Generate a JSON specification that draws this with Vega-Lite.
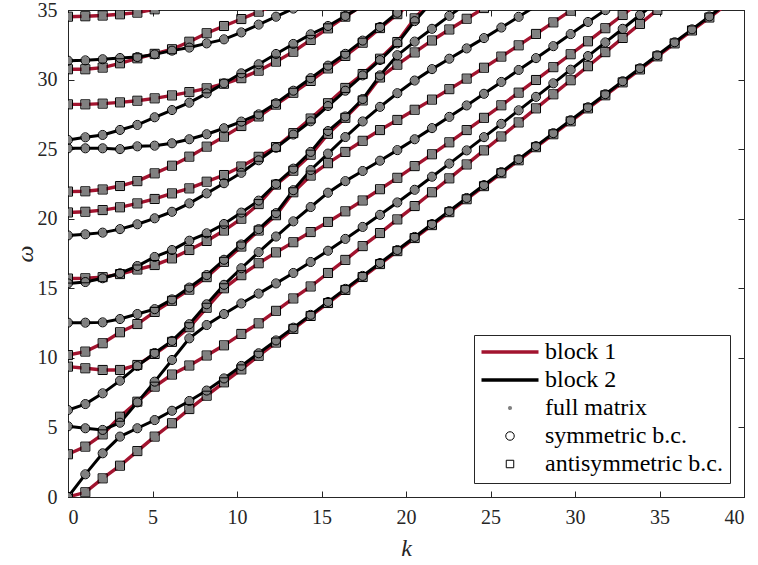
{
"$schema":"https://vega.github.io/schema/vega-lite/v6.json",
"width":676,"height":487,"autosize":{"type":"none"},
"padding":{"left":68,"top":10,"right":14,"bottom":68},
"background":"white",
"config":{
 "view":{"stroke":"#262626"},
 "axis":{"labelFont":"Liberation Serif","labelFontSize":20,"labelColor":"#262626","titleFont":"Liberation Serif","titleFontSize":24,"titleFontStyle":"italic","titleFontWeight":"normal","titleColor":"#262626","domainColor":"#262626","tickColor":"#262626","grid":false,"tickSize":-6},
 "axisX":{"labelPadding":16,"titlePadding":9},
 "axisY":{"labelPadding":17,"titlePadding":0},
 "legend":{"orient":"bottom-right","offset":14,"fillColor":"white","strokeColor":"#262626","padding":7,"labelFont":"Liberation Serif","labelFontSize":24,"labelColor":"black","rowPadding":4,"clipHeight":20,"symbolOffset":17,"labelOffset":23,"labelLimit":300}
},
"data":{"values":[
{"r":"A0","b":1,"k":0,"w":0},{"r":"A0","b":1,"k":1.026,"w":0.34},{"r":"A0","b":1,"k":2.051,"w":1.34},{"r":"A0","b":1,"k":3.077,"w":2.25},{"r":"A0","b":1,"k":4.103,"w":3.3},{"r":"A0","b":1,"k":5.128,"w":4.34},{"r":"A0","b":1,"k":6.154,"w":5.3},{"r":"A0","b":1,"k":7.179,"w":6.32},{"r":"A0","b":1,"k":8.205,"w":7.28},{"r":"A0","b":1,"k":9.231,"w":8.24},{"r":"A0","b":1,"k":10.256,"w":9.17},{"r":"A0","b":1,"k":11.282,"w":10.15},{"r":"A0","b":1,"k":12.308,"w":11.1},{"r":"A0","b":1,"k":13.333,"w":12.08},{"r":"A0","b":1,"k":14.359,"w":13.01},{"r":"A0","b":1,"k":15.385,"w":13.94},{"r":"A0","b":1,"k":16.41,"w":14.88},{"r":"A0","b":1,"k":17.436,"w":15.81},{"r":"A0","b":1,"k":18.462,"w":16.74},{"r":"A0","b":1,"k":19.487,"w":17.67},{"r":"A0","b":1,"k":20.513,"w":18.61},{"r":"A0","b":1,"k":21.538,"w":19.54},{"r":"A0","b":1,"k":22.564,"w":20.47},{"r":"A0","b":1,"k":23.59,"w":21.4},{"r":"A0","b":1,"k":24.615,"w":22.34},{"r":"A0","b":1,"k":25.641,"w":23.27},{"r":"A0","b":1,"k":26.667,"w":24.2},{"r":"A0","b":1,"k":27.692,"w":25.14},{"r":"A0","b":1,"k":28.718,"w":26.07},{"r":"A0","b":1,"k":29.744,"w":27.0},{"r":"A0","b":1,"k":30.769,"w":27.93},{"r":"A0","b":1,"k":31.795,"w":28.87},{"r":"A0","b":1,"k":32.821,"w":29.8},{"r":"A0","b":1,"k":33.846,"w":30.73},{"r":"A0","b":1,"k":34.872,"w":31.67},{"r":"A0","b":1,"k":35.897,"w":32.6},{"r":"A0","b":1,"k":36.923,"w":33.53},{"r":"A0","b":1,"k":37.949,"w":34.46},{"r":"A0","b":1,"k":38.974,"w":35.4},
{"r":"A1","b":1,"k":0,"w":3.07},{"r":"A1","b":1,"k":1.026,"w":3.62},{"r":"A1","b":1,"k":2.051,"w":4.5},{"r":"A1","b":1,"k":3.077,"w":5.77},{"r":"A1","b":1,"k":4.103,"w":6.85},{"r":"A1","b":1,"k":5.128,"w":7.93},{"r":"A1","b":1,"k":6.154,"w":8.8},{"r":"A1","b":1,"k":7.179,"w":9.45},{"r":"A1","b":1,"k":8.205,"w":10.17},{"r":"A1","b":1,"k":9.231,"w":10.9},{"r":"A1","b":1,"k":10.256,"w":11.72},{"r":"A1","b":1,"k":11.282,"w":12.48},{"r":"A1","b":1,"k":12.308,"w":13.38},{"r":"A1","b":1,"k":13.333,"w":14.27},{"r":"A1","b":1,"k":14.359,"w":15.13},{"r":"A1","b":1,"k":15.385,"w":16.1},{"r":"A1","b":1,"k":16.41,"w":17.04},{"r":"A1","b":1,"k":17.436,"w":18.03},{"r":"A1","b":1,"k":18.462,"w":18.97},{"r":"A1","b":1,"k":19.487,"w":19.95},{"r":"A1","b":1,"k":20.513,"w":20.91},{"r":"A1","b":1,"k":21.538,"w":21.9},{"r":"A1","b":1,"k":22.564,"w":22.9},{"r":"A1","b":1,"k":23.59,"w":23.9},{"r":"A1","b":1,"k":24.615,"w":24.91},{"r":"A1","b":1,"k":25.641,"w":25.91},{"r":"A1","b":1,"k":26.667,"w":26.92},{"r":"A1","b":1,"k":27.692,"w":27.93},{"r":"A1","b":1,"k":28.718,"w":28.94},{"r":"A1","b":1,"k":29.744,"w":29.95},{"r":"A1","b":1,"k":30.769,"w":30.96},{"r":"A1","b":1,"k":31.795,"w":31.97},{"r":"A1","b":1,"k":32.821,"w":32.99},{"r":"A1","b":1,"k":33.846,"w":34.0},{"r":"A1","b":1,"k":34.872,"w":35.01},
{"r":"A2","b":1,"k":0,"w":9.37},{"r":"A2","b":1,"k":1.026,"w":9.25},{"r":"A2","b":1,"k":2.051,"w":9.13},{"r":"A2","b":1,"k":3.077,"w":9.13},{"r":"A2","b":1,"k":4.103,"w":9.49},{"r":"A2","b":1,"k":5.128,"w":10.28},{"r":"A2","b":1,"k":6.154,"w":11.15},{"r":"A2","b":1,"k":7.179,"w":12.2},{"r":"A2","b":1,"k":8.205,"w":13.6},{"r":"A2","b":1,"k":9.231,"w":15.0},{"r":"A2","b":1,"k":10.256,"w":15.94},{"r":"A2","b":1,"k":11.282,"w":16.8},{"r":"A2","b":1,"k":12.308,"w":17.58},{"r":"A2","b":1,"k":13.333,"w":18.31},{"r":"A2","b":1,"k":14.359,"w":19.04},{"r":"A2","b":1,"k":15.385,"w":19.77},{"r":"A2","b":1,"k":16.41,"w":20.53},{"r":"A2","b":1,"k":17.436,"w":21.31},{"r":"A2","b":1,"k":18.462,"w":22.12},{"r":"A2","b":1,"k":19.487,"w":22.94},{"r":"A2","b":1,"k":20.513,"w":23.78},{"r":"A2","b":1,"k":21.538,"w":24.63},{"r":"A2","b":1,"k":22.564,"w":25.49},{"r":"A2","b":1,"k":23.59,"w":26.37},{"r":"A2","b":1,"k":24.615,"w":27.25},{"r":"A2","b":1,"k":25.641,"w":28.15},{"r":"A2","b":1,"k":26.667,"w":29.06},{"r":"A2","b":1,"k":27.692,"w":29.97},{"r":"A2","b":1,"k":28.718,"w":30.89},{"r":"A2","b":1,"k":29.744,"w":31.82},{"r":"A2","b":1,"k":30.769,"w":32.75},{"r":"A2","b":1,"k":31.795,"w":33.69},{"r":"A2","b":1,"k":32.821,"w":34.64},{"r":"A2","b":1,"k":33.846,"w":35.59},
{"r":"A3","b":1,"k":0,"w":10.2},{"r":"A3","b":1,"k":1.026,"w":10.45},{"r":"A3","b":1,"k":2.051,"w":11.05},{"r":"A3","b":1,"k":3.077,"w":11.84},{"r":"A3","b":1,"k":4.103,"w":12.43},{"r":"A3","b":1,"k":5.128,"w":13.3},{"r":"A3","b":1,"k":6.154,"w":14.1},{"r":"A3","b":1,"k":7.179,"w":14.9},{"r":"A3","b":1,"k":8.205,"w":15.8},{"r":"A3","b":1,"k":9.231,"w":16.9},{"r":"A3","b":1,"k":10.256,"w":18.0},{"r":"A3","b":1,"k":11.282,"w":19.15},{"r":"A3","b":1,"k":12.308,"w":20.25},{"r":"A3","b":1,"k":13.333,"w":21.9},{"r":"A3","b":1,"k":14.359,"w":23.1},{"r":"A3","b":1,"k":15.385,"w":23.99},{"r":"A3","b":1,"k":16.41,"w":24.8},{"r":"A3","b":1,"k":17.436,"w":25.6},{"r":"A3","b":1,"k":18.462,"w":26.37},{"r":"A3","b":1,"k":19.487,"w":27.1},{"r":"A3","b":1,"k":20.513,"w":27.83},{"r":"A3","b":1,"k":21.538,"w":28.56},{"r":"A3","b":1,"k":22.564,"w":29.31},{"r":"A3","b":1,"k":23.59,"w":30.07},{"r":"A3","b":1,"k":24.615,"w":30.85},{"r":"A3","b":1,"k":25.641,"w":31.65},{"r":"A3","b":1,"k":26.667,"w":32.46},{"r":"A3","b":1,"k":27.692,"w":33.28},{"r":"A3","b":1,"k":28.718,"w":34.11},{"r":"A3","b":1,"k":29.744,"w":34.95},{"r":"A3","b":1,"k":30.769,"w":35.8},
{"r":"A4","b":1,"k":0,"w":15.7},{"r":"A4","b":1,"k":1.026,"w":15.72},{"r":"A4","b":1,"k":2.051,"w":15.8},{"r":"A4","b":1,"k":3.077,"w":16.02},{"r":"A4","b":1,"k":4.103,"w":16.35},{"r":"A4","b":1,"k":5.128,"w":16.67},{"r":"A4","b":1,"k":6.154,"w":17.15},{"r":"A4","b":1,"k":7.179,"w":17.75},{"r":"A4","b":1,"k":8.205,"w":18.4},{"r":"A4","b":1,"k":9.231,"w":19.15},{"r":"A4","b":1,"k":10.256,"w":20.0},{"r":"A4","b":1,"k":11.282,"w":21.05},{"r":"A4","b":1,"k":12.308,"w":22.45},{"r":"A4","b":1,"k":13.333,"w":23.45},{"r":"A4","b":1,"k":14.359,"w":24.6},{"r":"A4","b":1,"k":15.385,"w":26.1},{"r":"A4","b":1,"k":16.41,"w":27.25},{"r":"A4","b":1,"k":17.436,"w":28.5},{"r":"A4","b":1,"k":18.462,"w":30.15},{"r":"A4","b":1,"k":19.487,"w":31.07},{"r":"A4","b":1,"k":20.513,"w":31.95},{"r":"A4","b":1,"k":21.538,"w":32.81},{"r":"A4","b":1,"k":22.564,"w":33.6},{"r":"A4","b":1,"k":23.59,"w":34.37},{"r":"A4","b":1,"k":24.615,"w":35.14},
{"r":"A5","b":1,"k":0,"w":20.45},{"r":"A5","b":1,"k":1.026,"w":20.5},{"r":"A5","b":1,"k":2.051,"w":20.62},{"r":"A5","b":1,"k":3.077,"w":20.82},{"r":"A5","b":1,"k":4.103,"w":21.1},{"r":"A5","b":1,"k":5.128,"w":21.42},{"r":"A5","b":1,"k":6.154,"w":21.82},{"r":"A5","b":1,"k":7.179,"w":22.18},{"r":"A5","b":1,"k":8.205,"w":22.66},{"r":"A5","b":1,"k":9.231,"w":23.14},{"r":"A5","b":1,"k":10.256,"w":23.75},{"r":"A5","b":1,"k":11.282,"w":24.45},{"r":"A5","b":1,"k":12.308,"w":25.15},{"r":"A5","b":1,"k":13.333,"w":26.15},{"r":"A5","b":1,"k":14.359,"w":27.2},{"r":"A5","b":1,"k":15.385,"w":28.3},{"r":"A5","b":1,"k":16.41,"w":29.4},{"r":"A5","b":1,"k":17.436,"w":30.4},{"r":"A5","b":1,"k":18.462,"w":31.5},{"r":"A5","b":1,"k":19.487,"w":32.7},{"r":"A5","b":1,"k":20.513,"w":34.4},{"r":"A5","b":1,"k":21.538,"w":35.7},
{"r":"A6","b":1,"k":0,"w":21.95},{"r":"A6","b":1,"k":1.026,"w":21.97},{"r":"A6","b":1,"k":2.051,"w":22.1},{"r":"A6","b":1,"k":3.077,"w":22.35},{"r":"A6","b":1,"k":4.103,"w":22.7},{"r":"A6","b":1,"k":5.128,"w":23.26},{"r":"A6","b":1,"k":6.154,"w":23.81},{"r":"A6","b":1,"k":7.179,"w":24.46},{"r":"A6","b":1,"k":8.205,"w":25.18},{"r":"A6","b":1,"k":9.231,"w":25.9},{"r":"A6","b":1,"k":10.256,"w":26.66},{"r":"A6","b":1,"k":11.282,"w":27.35},{"r":"A6","b":1,"k":12.308,"w":28.2},{"r":"A6","b":1,"k":13.333,"w":29.05},{"r":"A6","b":1,"k":14.359,"w":29.9},{"r":"A6","b":1,"k":15.385,"w":30.8},{"r":"A6","b":1,"k":16.41,"w":31.7},{"r":"A6","b":1,"k":17.436,"w":32.65},{"r":"A6","b":1,"k":18.462,"w":33.7},{"r":"A6","b":1,"k":19.487,"w":34.7},{"r":"A6","b":1,"k":20.513,"w":35.7},
{"r":"A7","b":1,"k":0,"w":28.22},{"r":"A7","b":1,"k":1.026,"w":28.22},{"r":"A7","b":1,"k":2.051,"w":28.27},{"r":"A7","b":1,"k":3.077,"w":28.36},{"r":"A7","b":1,"k":4.103,"w":28.48},{"r":"A7","b":1,"k":5.128,"w":28.65},{"r":"A7","b":1,"k":6.154,"w":28.86},{"r":"A7","b":1,"k":7.179,"w":29.1},{"r":"A7","b":1,"k":8.205,"w":29.37},{"r":"A7","b":1,"k":9.231,"w":29.7},{"r":"A7","b":1,"k":10.256,"w":30.1},{"r":"A7","b":1,"k":11.282,"w":30.64},{"r":"A7","b":1,"k":12.308,"w":31.29},{"r":"A7","b":1,"k":13.333,"w":32.0},{"r":"A7","b":1,"k":14.359,"w":32.85},{"r":"A7","b":1,"k":15.385,"w":33.68},{"r":"A7","b":1,"k":16.41,"w":34.52},{"r":"A7","b":1,"k":17.436,"w":35.35},
{"r":"A8","b":1,"k":0,"w":30.74},{"r":"A8","b":1,"k":1.026,"w":30.74},{"r":"A8","b":1,"k":2.051,"w":30.86},{"r":"A8","b":1,"k":3.077,"w":31.17},{"r":"A8","b":1,"k":4.103,"w":31.53},{"r":"A8","b":1,"k":5.128,"w":31.85},{"r":"A8","b":1,"k":6.154,"w":32.18},{"r":"A8","b":1,"k":7.179,"w":32.72},{"r":"A8","b":1,"k":8.205,"w":33.33},{"r":"A8","b":1,"k":9.231,"w":33.85},{"r":"A8","b":1,"k":10.256,"w":34.35},{"r":"A8","b":1,"k":11.282,"w":34.88},{"r":"A8","b":1,"k":12.308,"w":35.4},
{"r":"A9","b":1,"k":0,"w":34.52},{"r":"A9","b":1,"k":1.026,"w":34.55},{"r":"A9","b":1,"k":2.051,"w":34.6},{"r":"A9","b":1,"k":3.077,"w":34.69},{"r":"A9","b":1,"k":4.103,"w":34.81},{"r":"A9","b":1,"k":5.128,"w":35.05},
{"r":"S0","b":2,"k":0,"w":0},{"r":"S0","b":2,"k":1.026,"w":1.63},{"r":"S0","b":2,"k":2.051,"w":3.14},{"r":"S0","b":2,"k":3.077,"w":4.34},{"r":"S0","b":2,"k":4.103,"w":4.94},{"r":"S0","b":2,"k":5.128,"w":5.53},{"r":"S0","b":2,"k":6.154,"w":6.2},{"r":"S0","b":2,"k":7.179,"w":6.9},{"r":"S0","b":2,"k":8.205,"w":7.65},{"r":"S0","b":2,"k":9.231,"w":8.52},{"r":"S0","b":2,"k":10.256,"w":9.42},{"r":"S0","b":2,"k":11.282,"w":10.33},{"r":"S0","b":2,"k":12.308,"w":11.25},{"r":"S0","b":2,"k":13.333,"w":12.17},{"r":"S0","b":2,"k":14.359,"w":13.09},{"r":"S0","b":2,"k":15.385,"w":14.02},{"r":"S0","b":2,"k":16.41,"w":14.96},{"r":"S0","b":2,"k":17.436,"w":15.89},{"r":"S0","b":2,"k":18.462,"w":16.82},{"r":"S0","b":2,"k":19.487,"w":17.75},{"r":"S0","b":2,"k":20.513,"w":18.69},{"r":"S0","b":2,"k":21.538,"w":19.62},{"r":"S0","b":2,"k":22.564,"w":20.55},{"r":"S0","b":2,"k":23.59,"w":21.49},{"r":"S0","b":2,"k":24.615,"w":22.42},{"r":"S0","b":2,"k":25.641,"w":23.35},{"r":"S0","b":2,"k":26.667,"w":24.28},{"r":"S0","b":2,"k":27.692,"w":25.22},{"r":"S0","b":2,"k":28.718,"w":26.15},{"r":"S0","b":2,"k":29.744,"w":27.08},{"r":"S0","b":2,"k":30.769,"w":28.01},{"r":"S0","b":2,"k":31.795,"w":28.95},{"r":"S0","b":2,"k":32.821,"w":29.88},{"r":"S0","b":2,"k":33.846,"w":30.81},{"r":"S0","b":2,"k":34.872,"w":31.75},{"r":"S0","b":2,"k":35.897,"w":32.68},{"r":"S0","b":2,"k":36.923,"w":33.61},{"r":"S0","b":2,"k":37.949,"w":34.54},{"r":"S0","b":2,"k":38.974,"w":35.48},
{"r":"S1","b":2,"k":0,"w":5.08},{"r":"S1","b":2,"k":1.026,"w":4.94},{"r":"S1","b":2,"k":2.051,"w":4.82},{"r":"S1","b":2,"k":3.077,"w":5.34},{"r":"S1","b":2,"k":4.103,"w":6.8},{"r":"S1","b":2,"k":5.128,"w":8.29},{"r":"S1","b":2,"k":6.154,"w":9.85},{"r":"S1","b":2,"k":7.179,"w":11.4},{"r":"S1","b":2,"k":8.205,"w":12.36},{"r":"S1","b":2,"k":9.231,"w":13.15},{"r":"S1","b":2,"k":10.256,"w":13.91},{"r":"S1","b":2,"k":11.282,"w":14.62},{"r":"S1","b":2,"k":12.308,"w":15.35},{"r":"S1","b":2,"k":13.333,"w":16.1},{"r":"S1","b":2,"k":14.359,"w":16.89},{"r":"S1","b":2,"k":15.385,"w":17.7},{"r":"S1","b":2,"k":16.41,"w":18.55},{"r":"S1","b":2,"k":17.436,"w":19.41},{"r":"S1","b":2,"k":18.462,"w":20.28},{"r":"S1","b":2,"k":19.487,"w":21.17},{"r":"S1","b":2,"k":20.513,"w":22.08},{"r":"S1","b":2,"k":21.538,"w":23.02},{"r":"S1","b":2,"k":22.564,"w":23.96},{"r":"S1","b":2,"k":23.59,"w":24.91},{"r":"S1","b":2,"k":24.615,"w":25.86},{"r":"S1","b":2,"k":25.641,"w":26.82},{"r":"S1","b":2,"k":26.667,"w":27.79},{"r":"S1","b":2,"k":27.692,"w":28.76},{"r":"S1","b":2,"k":28.718,"w":29.73},{"r":"S1","b":2,"k":29.744,"w":30.71},{"r":"S1","b":2,"k":30.769,"w":31.69},{"r":"S1","b":2,"k":31.795,"w":32.67},{"r":"S1","b":2,"k":32.821,"w":33.65},{"r":"S1","b":2,"k":33.846,"w":34.64},{"r":"S1","b":2,"k":34.872,"w":35.63},
{"r":"S2","b":2,"k":0,"w":6.25},{"r":"S2","b":2,"k":1.026,"w":6.68},{"r":"S2","b":2,"k":2.051,"w":7.45},{"r":"S2","b":2,"k":3.077,"w":8.36},{"r":"S2","b":2,"k":4.103,"w":9.41},{"r":"S2","b":2,"k":5.128,"w":10.35},{"r":"S2","b":2,"k":6.154,"w":11.22},{"r":"S2","b":2,"k":7.179,"w":12.42},{"r":"S2","b":2,"k":8.205,"w":13.85},{"r":"S2","b":2,"k":9.231,"w":15.25},{"r":"S2","b":2,"k":10.256,"w":16.44},{"r":"S2","b":2,"k":11.282,"w":17.6},{"r":"S2","b":2,"k":12.308,"w":18.72},{"r":"S2","b":2,"k":13.333,"w":19.81},{"r":"S2","b":2,"k":14.359,"w":20.84},{"r":"S2","b":2,"k":15.385,"w":21.87},{"r":"S2","b":2,"k":16.41,"w":22.7},{"r":"S2","b":2,"k":17.436,"w":23.43},{"r":"S2","b":2,"k":18.462,"w":24.17},{"r":"S2","b":2,"k":19.487,"w":24.93},{"r":"S2","b":2,"k":20.513,"w":25.71},{"r":"S2","b":2,"k":21.538,"w":26.51},{"r":"S2","b":2,"k":22.564,"w":27.32},{"r":"S2","b":2,"k":23.59,"w":28.14},{"r":"S2","b":2,"k":24.615,"w":28.98},{"r":"S2","b":2,"k":25.641,"w":29.83},{"r":"S2","b":2,"k":26.667,"w":30.69},{"r":"S2","b":2,"k":27.692,"w":31.54},{"r":"S2","b":2,"k":28.718,"w":32.4},{"r":"S2","b":2,"k":29.744,"w":33.27},{"r":"S2","b":2,"k":30.769,"w":34.14},{"r":"S2","b":2,"k":31.795,"w":34.99},{"r":"S2","b":2,"k":32.821,"w":35.9},
{"r":"S3","b":2,"k":0,"w":12.53},{"r":"S3","b":2,"k":1.026,"w":12.53},{"r":"S3","b":2,"k":2.051,"w":12.55},{"r":"S3","b":2,"k":3.077,"w":12.79},{"r":"S3","b":2,"k":4.103,"w":13.15},{"r":"S3","b":2,"k":5.128,"w":13.5},{"r":"S3","b":2,"k":6.154,"w":14.2},{"r":"S3","b":2,"k":7.179,"w":15.05},{"r":"S3","b":2,"k":8.205,"w":15.95},{"r":"S3","b":2,"k":9.231,"w":17.05},{"r":"S3","b":2,"k":10.256,"w":18.15},{"r":"S3","b":2,"k":11.282,"w":19.25},{"r":"S3","b":2,"k":12.308,"w":20.4},{"r":"S3","b":2,"k":13.333,"w":22.05},{"r":"S3","b":2,"k":14.359,"w":23.5},{"r":"S3","b":2,"k":15.385,"w":24.68},{"r":"S3","b":2,"k":16.41,"w":25.87},{"r":"S3","b":2,"k":17.436,"w":26.99},{"r":"S3","b":2,"k":18.462,"w":28.04},{"r":"S3","b":2,"k":19.487,"w":29.02},{"r":"S3","b":2,"k":20.513,"w":29.93},{"r":"S3","b":2,"k":21.538,"w":30.75},{"r":"S3","b":2,"k":22.564,"w":31.5},{"r":"S3","b":2,"k":23.59,"w":32.24},{"r":"S3","b":2,"k":24.615,"w":32.98},{"r":"S3","b":2,"k":25.641,"w":33.74},{"r":"S3","b":2,"k":26.667,"w":34.51},{"r":"S3","b":2,"k":27.692,"w":35.3},
{"r":"S4","b":2,"k":0,"w":15.35},{"r":"S4","b":2,"k":1.026,"w":15.45},{"r":"S4","b":2,"k":2.051,"w":15.72},{"r":"S4","b":2,"k":3.077,"w":16.08},{"r":"S4","b":2,"k":4.103,"w":16.6},{"r":"S4","b":2,"k":5.128,"w":17.25},{"r":"S4","b":2,"k":6.154,"w":17.75},{"r":"S4","b":2,"k":7.179,"w":18.42},{"r":"S4","b":2,"k":8.205,"w":18.95},{"r":"S4","b":2,"k":9.231,"w":19.62},{"r":"S4","b":2,"k":10.256,"w":20.44},{"r":"S4","b":2,"k":11.282,"w":21.3},{"r":"S4","b":2,"k":12.308,"w":22.5},{"r":"S4","b":2,"k":13.333,"w":23.6},{"r":"S4","b":2,"k":14.359,"w":24.8},{"r":"S4","b":2,"k":15.385,"w":26.3},{"r":"S4","b":2,"k":16.41,"w":27.35},{"r":"S4","b":2,"k":17.436,"w":28.6},{"r":"S4","b":2,"k":18.462,"w":30.3},{"r":"S4","b":2,"k":19.487,"w":31.75},{"r":"S4","b":2,"k":20.513,"w":32.73},{"r":"S4","b":2,"k":21.538,"w":33.65},{"r":"S4","b":2,"k":22.564,"w":34.58},{"r":"S4","b":2,"k":23.59,"w":35.48},
{"r":"S5","b":2,"k":0,"w":18.8},{"r":"S5","b":2,"k":1.026,"w":18.88},{"r":"S5","b":2,"k":2.051,"w":19.0},{"r":"S5","b":2,"k":3.077,"w":19.25},{"r":"S5","b":2,"k":4.103,"w":19.6},{"r":"S5","b":2,"k":5.128,"w":20.03},{"r":"S5","b":2,"k":6.154,"w":20.5},{"r":"S5","b":2,"k":7.179,"w":21.1},{"r":"S5","b":2,"k":8.205,"w":21.82},{"r":"S5","b":2,"k":9.231,"w":22.55},{"r":"S5","b":2,"k":10.256,"w":23.3},{"r":"S5","b":2,"k":11.282,"w":24.2},{"r":"S5","b":2,"k":12.308,"w":25.1},{"r":"S5","b":2,"k":13.333,"w":26.05},{"r":"S5","b":2,"k":14.359,"w":27.0},{"r":"S5","b":2,"k":15.385,"w":28.1},{"r":"S5","b":2,"k":16.41,"w":29.2},{"r":"S5","b":2,"k":17.436,"w":30.3},{"r":"S5","b":2,"k":18.462,"w":31.4},{"r":"S5","b":2,"k":19.487,"w":32.6},{"r":"S5","b":2,"k":20.513,"w":34.2},{"r":"S5","b":2,"k":21.538,"w":35.6},
{"r":"S6","b":2,"k":0,"w":25.06},{"r":"S6","b":2,"k":1.026,"w":25.06},{"r":"S6","b":2,"k":2.051,"w":25.06},{"r":"S6","b":2,"k":3.077,"w":25.0},{"r":"S6","b":2,"k":4.103,"w":25.2},{"r":"S6","b":2,"k":5.128,"w":25.25},{"r":"S6","b":2,"k":6.154,"w":25.42},{"r":"S6","b":2,"k":7.179,"w":25.71},{"r":"S6","b":2,"k":8.205,"w":26.07},{"r":"S6","b":2,"k":9.231,"w":26.5},{"r":"S6","b":2,"k":10.256,"w":26.98},{"r":"S6","b":2,"k":11.282,"w":27.5},{"r":"S6","b":2,"k":12.308,"w":28.3},{"r":"S6","b":2,"k":13.333,"w":29.2},{"r":"S6","b":2,"k":14.359,"w":30.1},{"r":"S6","b":2,"k":15.385,"w":31.0},{"r":"S6","b":2,"k":16.41,"w":31.85},{"r":"S6","b":2,"k":17.436,"w":32.8},{"r":"S6","b":2,"k":18.462,"w":33.78},{"r":"S6","b":2,"k":19.487,"w":34.8},{"r":"S6","b":2,"k":20.513,"w":35.9},
{"r":"S7","b":2,"k":0,"w":25.66},{"r":"S7","b":2,"k":1.026,"w":25.85},{"r":"S7","b":2,"k":2.051,"w":26.02},{"r":"S7","b":2,"k":3.077,"w":26.38},{"r":"S7","b":2,"k":4.103,"w":26.74},{"r":"S7","b":2,"k":5.128,"w":27.29},{"r":"S7","b":2,"k":6.154,"w":27.81},{"r":"S7","b":2,"k":7.179,"w":28.34},{"r":"S7","b":2,"k":8.205,"w":29.01},{"r":"S7","b":2,"k":9.231,"w":29.73},{"r":"S7","b":2,"k":10.256,"w":30.45},{"r":"S7","b":2,"k":11.282,"w":31.1},{"r":"S7","b":2,"k":12.308,"w":31.84},{"r":"S7","b":2,"k":13.333,"w":32.56},{"r":"S7","b":2,"k":14.359,"w":33.25},{"r":"S7","b":2,"k":15.385,"w":33.85},{"r":"S7","b":2,"k":16.41,"w":34.57},{"r":"S7","b":2,"k":17.436,"w":35.3},
{"r":"S8","b":2,"k":0,"w":31.36},{"r":"S8","b":2,"k":1.026,"w":31.38},{"r":"S8","b":2,"k":2.051,"w":31.46},{"r":"S8","b":2,"k":3.077,"w":31.55},{"r":"S8","b":2,"k":4.103,"w":31.62},{"r":"S8","b":2,"k":5.128,"w":31.81},{"r":"S8","b":2,"k":6.154,"w":32.08},{"r":"S8","b":2,"k":7.179,"w":32.3},{"r":"S8","b":2,"k":8.205,"w":32.6},{"r":"S8","b":2,"k":9.231,"w":32.89},{"r":"S8","b":2,"k":10.256,"w":33.39},{"r":"S8","b":2,"k":11.282,"w":33.95},{"r":"S8","b":2,"k":12.308,"w":34.52},{"r":"S8","b":2,"k":13.333,"w":35.1}
]},
"transform":[
 {"calculate":"datum.b==1?'block 1':'block 2'","as":"s"},
 {"calculate":"datum.b==2?'symmetric b.c.':'antisymmetric b.c.'","as":"m"}
],
"resolve":{"axis":{"x":"independent","y":"independent"}},
"layer":[
 {"transform":[{"filter":"datum.b==1"}],
  "mark":{"type":"line","clip":true,"strokeWidth":3.4},
  "encoding":{
   "x":{"field":"k","type":"quantitative","scale":{"domain":[0,40],"nice":false},"axis":{"values":[0,5,10,15,20,25,30,35,40],"title":"k"}},
   "y":{"field":"w","type":"quantitative","scale":{"domain":[0,35],"nice":false},"axis":{"values":[0,5,10,15,20,25,30,35],"title":"ω"}},
   "detail":{"field":"r"},
   "stroke":{"field":"s","type":"nominal","scale":{"domain":["block 1","block 2","full matrix","symmetric b.c.","antisymmetric b.c."],"range":["#a2142f","#000000","#808080","#000000","#000000"]},
    "legend":{"title":null,"encode":{"symbols":{"update":{
     "shape":{"signal":"datum.value=='antisymmetric b.c.' ? 'square' : ((datum.value=='block 1' || datum.value=='block 2') ? 'stroke' : 'circle')"},
     "size":{"signal":"datum.value=='full matrix' ? 18 : (datum.value=='symmetric b.c.' ? 72 : (datum.value=='antisymmetric b.c.' ? 56 : 3249))"},
     "fill":{"signal":"datum.value=='full matrix' ? '#808080' : 'transparent'"},
     "stroke":{"signal":"datum.value=='block 1' ? '#a2142f' : (datum.value=='full matrix' ? '#808080' : '#000000')"},
     "strokeWidth":{"signal":"(datum.value=='block 1' || datum.value=='block 2') ? 3.4 : (datum.value=='full matrix' ? 0 : 1)"},
     "opacity":{"value":1}
    }}}}}
  }},
 {"transform":[{"filter":"datum.b==2"}],
  "mark":{"type":"line","clip":true,"strokeWidth":3.0},
  "encoding":{
   "x":{"field":"k","type":"quantitative","axis":{"orient":"top","labels":false,"title":null,"values":[0,5,10,15,20,25,30,35,40]}},
   "y":{"field":"w","type":"quantitative","axis":{"orient":"right","labels":false,"title":null,"values":[0,5,10,15,20,25,30,35]}},
   "detail":{"field":"r"},
   "stroke":{"field":"s","type":"nominal"}
  }},
 {"transform":[{"filter":"datum.w<=35.15"}],
  "mark":{"type":"point","filled":true,"fill":"#808080","size":62,"strokeWidth":0,"opacity":1,"clip":true},
  "encoding":{
   "x":{"field":"k","type":"quantitative","axis":null},
   "y":{"field":"w","type":"quantitative","axis":null},
   "shape":{"field":"m","type":"nominal","scale":{"domain":["symmetric b.c.","antisymmetric b.c."],"range":["circle","square"]},"legend":null}
  }},
 {"transform":[{"filter":"datum.w<=35.15"}],
  "mark":{"type":"point","filled":false,"stroke":"#000000","fill":"transparent","strokeWidth":1,"size":82,"opacity":1,"clip":true},
  "encoding":{
   "x":{"field":"k","type":"quantitative","axis":null},
   "y":{"field":"w","type":"quantitative","axis":null},
   "shape":{"field":"m","type":"nominal","legend":null}
  }}
]
}
